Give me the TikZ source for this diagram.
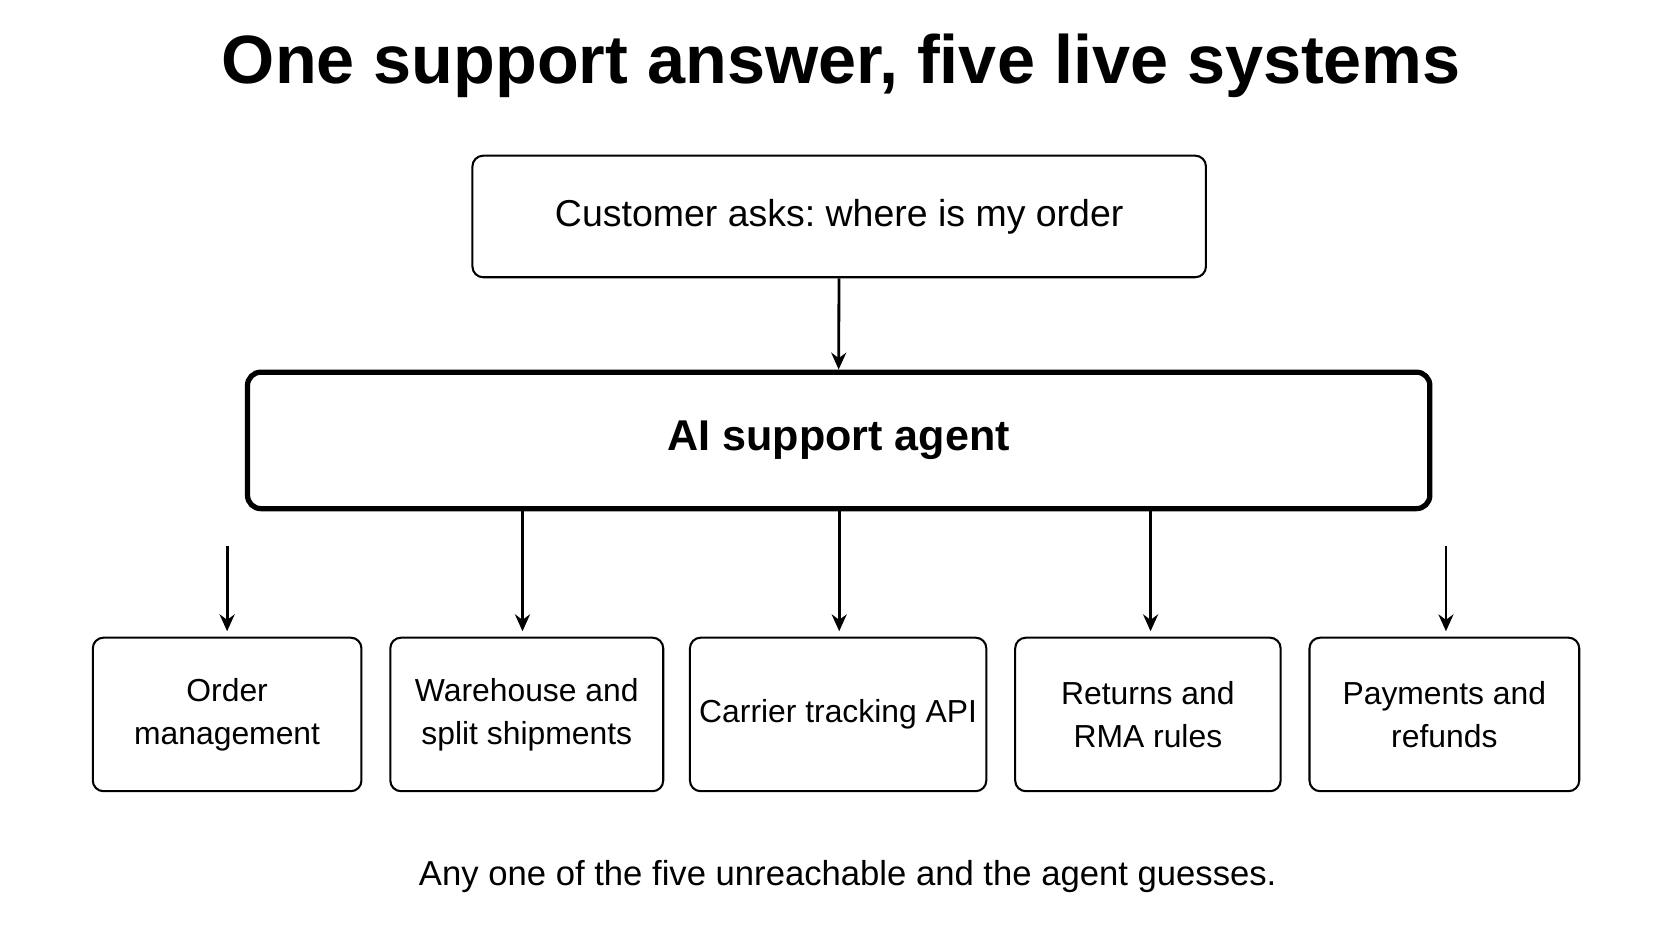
\documentclass[tikz,border=0pt]{standalone}
\usepackage{fontspec}
\setmainfont{Liberation Sans}
\usetikzlibrary{positioning,arrows.meta}
\frenchspacing

\begin{document}
\begin{tikzpicture}[x=0.02cm,y=-0.02cm,
  box/.style={draw,line width=1.1pt,rounded corners=0.2cm,align=center,
    font=\fontsize{17}{23}\selectfont},
  agentbox/.style={draw,line width=2.8pt,rounded corners=0.25cm,
    font=\fontsize{23}{27}\selectfont\bfseries,
    minimum width=22.18cm,minimum height=2.56cm},
  link/.style={-{Stealth[length=9pt,width=8pt]},line width=1.5pt}]

  \useasboundingbox (0,0) rectangle (1568,882);

  %% title and note
  \node (title) at (789,62) {\fontsize{36.5}{42}\selectfont\bfseries One support answer, five live systems};
  \node (note) at (795,822) {\fontsize{18.5}{22}\selectfont Any one of the five unreachable and the agent guesses.};

  %% question and agent
  \node[box,minimum width=13.76cm,minimum height=2.28cm,
    font=\fontsize{20}{24}\selectfont] (ask) at (787,203) {Customer asks: where is my order};
  \node[agentbox] (agent) at (786.5,413) {AI support agent};

  %% systems
  \node[box,minimum width=5.04cm,minimum height=2.88cm] (orders) at (213,670) {Order\\management};
  \node[box,minimum width=5.12cm,minimum height=2.88cm] (stock) at (494,670) {Warehouse and\\split shipments};
  \node[box,minimum width=5.56cm,minimum height=2.88cm] (carrier) at (786,670) {Carrier tracking API};
  \node[box,minimum width=4.98cm,minimum height=2.88cm] (returns) at (1076.5,670) {Returns and\\RMA rules};
  \node[box,minimum width=5.06cm,minimum height=2.88cm] (pay) at (1354.5,670) {Payments and\\refunds};

  \coordinate (ordtop) at (213,512);
  \coordinate (paytop) at (1356,512);

  %% arrows
  \draw[link] (ask) -- (agent.north);
  \draw[link] (ordtop) -- (213,592);
  \draw[link] (agent.south -| 490,0) -- (490,592);
  \draw[link] (agent.south -| 787,0) -- (787,592);
  \draw[link] (agent.south -| 1079,0) -- (1079,592);
  \draw[link] (paytop) -- (1356,592);
\end{tikzpicture}
\end{document}
